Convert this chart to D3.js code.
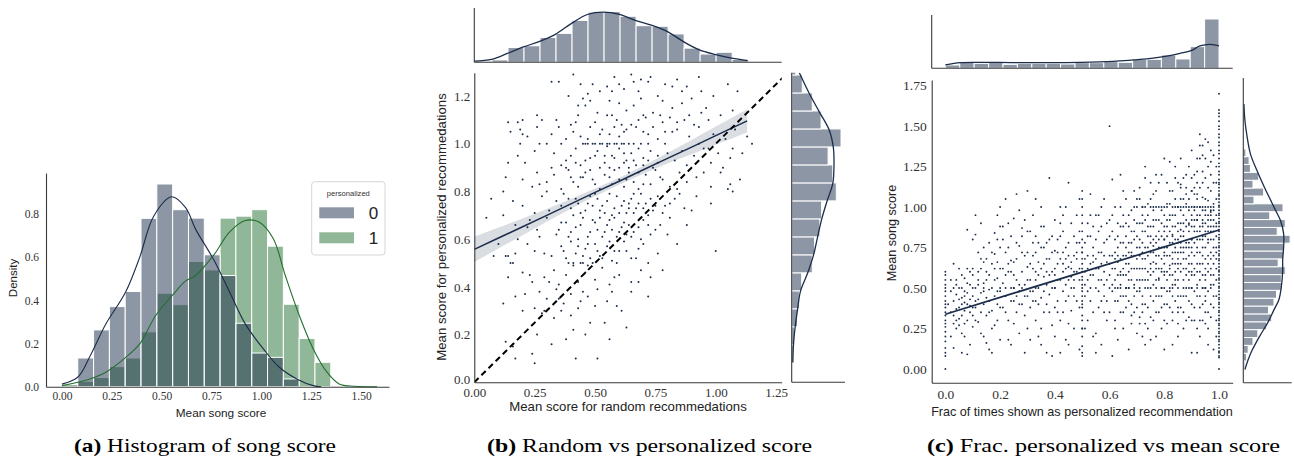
<!DOCTYPE html>
<html><head><meta charset="utf-8">
<script src="https://cdn.jsdelivr.net/npm/d3@7"></script>
<style>body{margin:0;background:#fff}svg{display:block}</style>
</head><body>
<svg id="chart" width="1294" height="460"></svg>
<script>
// ---------- DATA ----------
// (a) histogram of mean song score, density per bin (bin width 0.0793 starting at 0)
const aBinStart = 0, aBinWidth = 0.0793;
const aDens0 = [0,0.133,0.263,0.371,0.441,0.78,0.939,0.82,0.781,0.611,0.515,0.294,0.156,0.136,0.036,0,0,0,0,0];
const aDens1 = [0.01,0.025,0.043,0.093,0.133,0.254,0.433,0.38,0.58,0.541,0.781,0.79,0.82,0.651,0.382,0.223,0.113,0.005,0.005,0.005];
const aKde0 = [[0,0.012],[0.08,0.045],[0.14,0.14],[0.22,0.29],[0.32,0.44],[0.39,0.6],[0.46,0.79],[0.55,0.88],[0.62,0.83],[0.67,0.73],[0.76,0.59],[0.84,0.44],[0.92,0.29],[1.01,0.175],[1.09,0.09],[1.18,0.035],[1.26,0.005],[1.3,0]];
const aKde1 = [[0,0.005],[0.14,0.036],[0.22,0.067],[0.32,0.136],[0.39,0.198],[0.47,0.33],[0.56,0.43],[0.62,0.49],[0.67,0.515],[0.76,0.608],[0.84,0.716],[0.92,0.77],[0.99,0.762],[1.06,0.685],[1.12,0.515],[1.19,0.33],[1.26,0.175],[1.33,0.066],[1.39,0.013],[1.47,0.002],[1.58,0]];
const aXTicks = [0,0.25,0.5,0.75,1.0,1.25,1.5];
const aYTicks = [0,0.2,0.4,0.6,0.8];
const aLegend = ["0","1"];

// (b) random vs personalized
const bPoints = [
[0.41,1.29],[0.58,1.28],[0.65,1.29],[0.69,1.27],[0.73,1.28],[0.93,1.28],[0.35,1.26],[0.32,1.26],[0.49,1.25],[0.55,1.24],[0.66,1.26],[0.72,1.26],[0.79,1.25],[0.82,1.24],[0.94,1.22],[0.86,1.22],[1.09,1.22],[0.57,1.22],[0.47,1.21],[0.62,1.23],
[0.45,1.19],[0.46,1.16],[0.48,1.18],[0.56,1.18],[0.60,1.17],[0.66,1.16],[0.69,1.19],[0.78,1.18],[0.82,1.15],[0.86,1.17],[0.90,1.19],[0.96,1.15],[1.07,1.14],[0.26,1.12],[0.28,1.1],[0.43,1.16],[0.51,1.13],[0.57,1.12],[0.63,1.14],[0.71,1.11],[0.74,1.13],[0.77,1.12],[0.81,1.11],[0.89,1.12],[0.94,1.13],[0.2,1.1],[0.18,1.09],[0.14,1.09],[0.42,1.09],[0.5,1.09],[0.61,1.08],[0.68,1.1],[0.84,1.09],
[0.15,1.05],[0.19,1.06],[0.20,1.04],[0.22,1.03],[0.26,1.07],[0.32,1.04],[0.35,1.07],[0.41,1.05],[0.44,1.03],[0.47,1.02],[0.53,1.06],[0.56,1.04],[0.60,1.03],[0.63,1.06],[0.67,1.07],[0.72,1.04],[0.76,1.02],[0.79,1.05],[0.84,1.06],[0.89,1.03],[0.93,1.07],[0.99,1.04],[1.04,1.02],[1.08,1.06],[1.13,1.03],[0.38,1.02],[0.58,1.07],[0.70,1.05],
[0.19,1.0],[0.27,1.0],[0.30,1.0],[0.45,1.0],[0.46,1.0],[0.47,1.0],[0.49,1.0],[0.50,1.0],[0.52,1.0],[0.53,1.0],[0.55,1.0],[0.56,1.0],[0.58,1.0],[0.59,1.0],[0.61,1.0],[0.62,1.0],[0.64,1.0],[0.66,1.0],[0.69,1.0],[0.72,1.0],[0.79,1.0],[1.15,1.0],
[0.18,0.95],[0.21,0.92],[0.25,0.97],[0.33,0.96],[0.38,0.93],[0.40,0.95],[0.42,0.98],[0.44,0.91],[0.48,0.94],[0.51,0.97],[0.54,0.92],[0.57,0.95],[0.60,0.98],[0.63,0.93],[0.65,0.96],[0.67,0.91],[0.70,0.94],[0.73,0.97],[0.76,0.92],[0.80,0.96],[0.83,0.93],[0.88,0.91],[0.91,0.95],[0.95,0.98],[0.98,0.92],[1.01,0.96],[1.06,0.94],[1.11,0.96],[0.14,0.92],[0.36,0.91],[0.55,0.99],[0.62,0.96],[0.68,0.98],[0.86,0.97],
[0.13,0.86],[0.24,0.82],[0.26,0.88],[0.30,0.84],[0.33,0.87],[0.36,0.81],[0.39,0.89],[0.41,0.84],[0.43,0.82],[0.46,0.88],[0.49,0.85],[0.52,0.81],[0.54,0.87],[0.57,0.83],[0.58,0.89],[0.60,0.85],[0.62,0.82],[0.64,0.88],[0.66,0.84],[0.68,0.81],[0.71,0.87],[0.73,0.83],[0.75,0.89],[0.78,0.85],[0.81,0.82],[0.85,0.88],[0.88,0.84],[0.92,0.86],[0.98,0.82],[1.02,0.88],[1.05,0.81],[1.06,0.83],[0.27,0.83],[0.45,0.86],[0.50,0.83],[0.56,0.86],[0.63,0.85],[0.70,0.83],[0.77,0.86],[0.84,0.81],[1.07,0.8],
[0.07,0.77],[0.12,0.8],[0.20,0.74],[0.28,0.78],[0.31,0.72],[0.34,0.76],[0.37,0.79],[0.40,0.73],[0.42,0.77],[0.44,0.71],[0.47,0.75],[0.50,0.79],[0.52,0.72],[0.55,0.76],[0.57,0.7],[0.59,0.78],[0.61,0.74],[0.63,0.71],[0.65,0.77],[0.67,0.73],[0.69,0.79],[0.71,0.75],[0.74,0.72],[0.76,0.78],[0.79,0.74],[0.83,0.77],[0.87,0.73],[0.90,0.72],[0.25,0.71],[0.48,0.78],[0.53,0.74],[0.60,0.71],[0.66,0.79],[0.72,0.7],[0.64,0.75],[0.16,0.76],
[0.05,0.69],[0.17,0.66],[0.23,0.68],[0.26,0.64],[0.30,0.69],[0.34,0.62],[0.36,0.67],[0.39,0.61],[0.42,0.65],[0.45,0.69],[0.48,0.63],[0.50,0.67],[0.53,0.61],[0.55,0.66],[0.58,0.69],[0.60,0.63],[0.62,0.67],[0.65,0.61],[0.68,0.65],[0.70,0.68],[0.73,0.62],[0.77,0.66],[0.81,0.69],[0.27,0.61],[0.43,0.6],[0.52,0.69],[0.57,0.64],[0.63,0.62],[0.75,0.64],
[0.08,0.53],[0.14,0.53],[0.15,0.5],[0.17,0.54],[0.22,0.58],[0.25,0.55],[0.32,0.53],[0.36,0.57],[0.38,0.52],[0.40,0.59],[0.42,0.54],[0.44,0.5],[0.46,0.56],[0.48,0.52],[0.50,0.58],[0.52,0.53],[0.55,0.57],[0.57,0.51],[0.60,0.55],[0.62,0.59],[0.65,0.52],[0.68,0.56],[0.72,0.5],[0.76,0.54],[1.0,0.55],[0.13,0.53],[0.29,0.54],[0.41,0.5],[0.49,0.5],[0.58,0.55],[0.45,0.5],
[0.14,0.44],[0.16,0.5],[0.20,0.46],[0.24,0.42],[0.29,0.44],[0.33,0.47],[0.35,0.41],[0.38,0.45],[0.41,0.49],[0.43,0.42],[0.46,0.46],[0.50,0.43],[0.53,0.48],[0.56,0.41],[0.60,0.45],[0.65,0.42],[0.69,0.47],[0.73,0.44],[0.78,0.47],[0.47,0.49],[0.58,0.44],
[0.12,0.33],[0.17,0.36],[0.21,0.37],[0.25,0.31],[0.30,0.35],[0.34,0.39],[0.37,0.33],[0.40,0.37],[0.43,0.31],[0.47,0.36],[0.51,0.39],[0.55,0.34],[0.59,0.32],[0.65,0.38],[0.44,0.34],
[0.20,0.3],[0.28,0.29],[0.33,0.27],[0.40,0.28],[0.41,0.22],[0.48,0.25],[0.54,0.25],[0.63,0.23],[0.36,0.3],[0.29,0.3],
[0.13,0.17],[0.16,0.15],[0.32,0.16],[0.24,0.12],[0.17,0.1],[0.25,0.08],[0.42,0.1],[0.51,0.1]
];
const bPoints2 = [
[0.38,0.9],[0.4,0.86],[0.42,0.92],[0.44,0.86],[0.46,0.93],[0.48,0.89],[0.5,0.95],[0.52,0.9],[0.54,0.95],[0.56,0.9],[0.58,0.94],[0.6,0.9],[0.62,0.92],[0.64,0.9],[0.66,0.93],[0.68,0.88],[0.7,0.91],[0.72,0.93],[0.74,0.9],[0.76,0.95],
[0.36,0.74],[0.39,0.77],[0.41,0.7],[0.43,0.75],[0.46,0.72],[0.49,0.74],[0.51,0.77],[0.54,0.71],[0.56,0.79],[0.58,0.73],[0.62,0.76],[0.64,0.73],[0.66,0.71],[0.68,0.75],[0.7,0.73],[0.73,0.77],[0.75,0.74],[0.78,0.71],[0.81,0.75],[0.85,0.79],
[0.35,0.64],[0.38,0.67],[0.4,0.63],[0.44,0.66],[0.47,0.61],[0.49,0.68],[0.51,0.64],[0.54,0.63],[0.56,0.68],[0.59,0.61],[0.61,0.65],[0.64,0.66],[0.66,0.63],[0.69,0.6],[0.72,0.66],
[0.37,0.55],[0.39,0.5],[0.43,0.57],[0.45,0.53],[0.47,0.58],[0.51,0.55],[0.53,0.52],[0.56,0.59],[0.59,0.5],[0.63,0.55],[0.67,0.52],[0.7,0.58],
[0.3,0.8],[0.32,0.9],[0.34,1.1],[0.36,1.0],[0.4,1.08],[0.43,1.12],[0.48,1.07],[0.52,1.04],[0.55,1.12],[0.59,1.1],[0.62,1.05],[0.65,1.08],[0.7,1.12],[0.74,1.07],[0.78,1.09],[0.82,1.05],[0.87,1.1],[0.91,1.08],[0.97,1.1],[1.02,1.12],
[0.39,1.2],[0.44,1.25],[0.52,1.22],[0.6,1.25],[0.68,1.22],[0.76,1.2],[0.84,1.27],[0.88,1.24],[0.99,1.2],[1.05,1.25],
[0.2,0.85],[0.22,0.65],[0.18,0.6],[0.12,0.7],[0.1,0.58],[0.23,0.45],[0.27,0.38],[0.31,0.42],[0.35,0.35],[0.45,0.38],[0.5,0.32],[0.57,0.38],[0.61,0.3],[0.68,0.42],[0.72,0.36],[0.8,0.62],[0.84,0.58],[0.88,0.66],[0.92,0.78],[0.95,0.88],[0.98,0.75],[1.03,0.9],[1.1,0.85],[1.07,0.98],[0.93,1.0],[0.97,0.98],[0.26,0.2],[0.38,0.18],[0.46,0.2],[0.56,0.18]
];
const bRegX  = [0,0.1,0.2,0.3,0.4,0.5,0.6,0.7,0.8,0.9,1.0,1.13];
const bRegY  = [0.557,0.605,0.652,0.700,0.748,0.796,0.843,0.891,0.939,0.986,1.034,1.096];
const bRegCI = [0.053,0.044,0.035,0.027,0.02,0.016,0.015,0.017,0.022,0.03,0.038,0.049];
const bTopStart = 0.007, bTopWidth = 0.0663;
const bTopCounts = [2,4,25,28,42,49,71,85,86,78,62,61,48,24,14,17,5];
const bTopKdeX = [0,0.072,0.137,0.203,0.268,0.334,0.403,0.468,0.534,0.601,0.667,0.733,0.8,0.866,0.932,1.0,1.066,1.132];
const bTopKdeV = [2,5,15,26,35,47,66,81,85,81,71,63,52,35,21,13,7,3];
const bRightStart = 0.082, bRightWidth = 0.0754;
const bRightCounts = [3,5,10,13,17,35,39,48,51,76,70,62,84,50,35,18,7];
const bRightKdeY = [1.298,1.211,1.134,1.057,0.983,0.908,0.834,0.758,0.683,0.608,0.532,0.457,0.382,0.306,0.234,0.157,0.083];
const bRightKdeV = [13,30,47,64,71,72,70,60,51,44,37,27,15,10,6,3,2];
const bXTicks = [0,0.25,0.5,0.75,1.0,1.25];
const bYTicks = [0,0.2,0.4,0.6,0.8,1.0,1.2];

// (c) fraction personalized vs mean score
const cColX1 = [0.0,0.07,0.08,0.1,0.11,0.13,0.15,0.17,0.18,0.2,0.22,0.23,0.25,0.27,0.28,0.3,0.31,0.33,0.35,0.36,0.38,0.4,0.41,0.43,0.44,0.46,0.48,0.5,0.51,0.53,0.55,0.56,0.58,0.6,0.61,0.63,0.65,0.67,0.68,0.7,0.71,0.73,0.75,0.76,0.78,0.8,0.81,0.83,0.85,0.86,0.88,0.9,0.91,0.93,0.95,0.96,0.98,1.0,1.01,1.03,1.05,1.07,1.08,1.1,1.12,1.14,1.15,1.17,1.2,1.22,1.25,1.27,1.3,1.33,1.35,1.38,1.4,1.43,1.45,1.48,1.5,1.53,1.56,1.58,1.6,1.7];
const cColX0 = [0.0,0.08,0.1,0.13,0.17,0.2,0.23,0.26,0.28,0.3,0.33,0.35,0.38,0.4,0.42,0.45,0.48,0.5,0.52,0.55,0.58,0.6];
const cColXHalf = [0.08,0.1,0.14,0.2,0.25,0.3,0.33,0.38,0.42,0.45,0.48,0.5,0.52,0.55,0.57,0.6,0.62,0.65,0.68,0.72,0.75,0.8,0.85,0.9,0.95,1.0,1.05,1.1];
const cRowY1 = [0.69,0.7,0.72,0.73,0.75,0.76,0.77,0.79,0.8,0.81,0.83,0.84,0.85,0.86,0.87,0.88,0.89,0.9,0.91,0.92,0.93,0.94,0.95,0.96,0.97,0.98];
const cRowYHalf = [0.14,0.2,0.25,0.33,0.4,0.6,0.62,0.64,0.66,0.67,0.69,0.71,0.73,0.75,0.77,0.79,0.8,0.82,0.83,0.85,0.87,0.88,0.9,0.92,0.94,0.95,0.97];
const cCloud = [
[0.02,0.35],[0.03,0.42],[0.03,0.28],[0.04,0.46],[0.04,0.55],[0.05,0.38],[0.05,0.31],[0.05,0.62],[0.06,0.44],[0.06,0.5],[0.06,0.22],[0.07,0.36],[0.07,0.41],[0.07,0.56],[0.08,0.47],[0.08,0.3],[0.08,0.86],[0.09,0.52],[0.09,0.39],[0.09,0.15],[0.1,0.45],[0.1,0.58],[0.1,0.33],[0.02,0.2],[0.03,0.13],[0.04,0.25],[0.06,0.1],[0.08,0.09],[0.1,0.62],[0.05,0.5],[0.07,0.48],[0.09,0.43],[0.02,0.55],[0.04,0.37],[0.06,0.33],[0.08,0.4],[0.1,0.26],[0.1,0.8],[0.03,0.65],[0.07,0.2],
[0.11,0.5],[0.11,0.38],[0.12,0.55],[0.12,0.72],[0.12,0.29],[0.13,0.47],[0.13,0.62],[0.13,0.9],[0.14,0.4],[0.14,0.53],[0.14,0.2],[0.15,0.68],[0.15,0.44],[0.15,0.33],[0.16,0.58],[0.16,0.78],[0.16,0.12],[0.17,0.5],[0.17,0.36],[0.17,0.65],[0.18,0.45],[0.18,0.27],[0.18,0.84],[0.19,0.56],[0.19,0.4],[0.19,0.95],[0.2,0.62],[0.2,0.48],[0.2,0.18],[0.11,0.83],[0.13,0.22],[0.15,0.16],[0.17,0.1],[0.19,0.3],[0.12,0.43],[0.14,0.66],[0.16,0.49],[0.18,0.71],[0.2,0.75],[0.2,1.0],
[0.21,0.53],[0.21,0.38],[0.22,0.72],[0.22,0.45],[0.22,1.05],[0.23,0.6],[0.23,0.3],[0.24,0.5],[0.24,0.82],[0.24,0.15],[0.25,0.42],[0.25,0.66],[0.25,0.93],[0.26,0.55],[0.26,0.35],[0.26,1.08],[0.27,0.48],[0.27,0.76],[0.27,0.22],[0.28,0.6],[0.28,0.4],[0.28,0.87],[0.29,0.52],[0.29,0.1],[0.29,0.7],[0.3,0.45],[0.3,0.63],[0.3,1.1],[0.21,0.88],[0.23,0.18],[0.25,0.28],[0.27,0.98],[0.29,0.33],[0.22,0.58],[0.24,0.67],[0.26,0.78],[0.28,0.5],[0.3,0.85],[0.23,0.9],[0.3,0.25],
[0.31,0.55],[0.31,0.38],[0.32,0.7],[0.32,0.48],[0.32,0.95],[0.33,0.6],[0.33,0.3],[0.33,0.82],[0.34,0.5],[0.34,0.2],[0.34,0.66],[0.35,0.44],[0.35,0.75],[0.35,1.0],[0.36,0.57],[0.36,0.35],[0.36,0.88],[0.37,0.52],[0.37,0.1],[0.37,0.68],[0.38,0.46],[0.38,0.8],[0.38,1.18],[0.39,0.6],[0.39,0.27],[0.39,0.72],[0.4,0.5],[0.4,0.92],[0.31,0.18],[0.33,0.42],[0.35,0.15],[0.37,0.4],[0.39,0.08],[0.32,0.62],[0.34,0.78],[0.36,0.65],[0.38,0.58],[0.4,0.38],[0.4,0.73],[0.31,0.85],
[0.41,0.55],[0.41,0.42],[0.42,0.68],[0.42,0.3],[0.42,1.0],[0.43,0.6],[0.43,0.48],[0.43,0.85],[0.44,0.52],[0.44,0.18],[0.44,0.75],[0.45,0.45],[0.45,0.63],[0.45,1.15],[0.46,0.57],[0.46,0.36],[0.46,0.9],[0.47,0.5],[0.47,0.25],[0.47,0.7],[0.48,0.6],[0.48,0.42],[0.48,0.95],[0.49,0.55],[0.49,0.12],[0.49,0.78],[0.41,0.8],[0.42,0.1],[0.43,0.35],[0.44,0.62],[0.45,0.28],[0.46,0.66],[0.47,0.82],[0.48,0.72],[0.49,0.38],[0.41,0.65],[0.43,0.72],[0.45,0.55],[0.47,0.6],[0.49,1.05],
[0.51,0.6],[0.51,0.45],[0.51,0.78],[0.52,0.55],[0.52,0.3],[0.52,0.9],[0.53,0.65],[0.53,0.42],[0.53,1.08],[0.54,0.58],[0.54,0.2],[0.54,0.75],[0.55,0.5],[0.55,0.68],[0.55,0.95],[0.56,0.62],[0.56,0.38],[0.56,0.85],[0.57,0.55],[0.57,0.15],[0.57,0.72],[0.58,0.6],[0.58,0.45],[0.58,1.05],[0.59,0.66],[0.59,0.3],[0.59,0.8],[0.6,0.58],[0.6,0.7],[0.6,1.5],[0.51,0.25],[0.52,0.7],[0.53,0.82],[0.54,0.35],[0.55,0.1],[0.56,0.48],[0.57,0.88],[0.58,0.52],[0.59,0.42],[0.6,0.92],[0.52,0.62],[0.54,0.66],[0.56,0.72],[0.58,0.78],[0.6,0.35],
[0.61,0.62],[0.61,0.48],[0.61,0.85],[0.61,1.17],[0.62,0.55],[0.62,0.3],[0.62,0.72],[0.62,1.0],[0.63,0.66],[0.63,0.42],[0.63,0.9],[0.63,0.18],[0.64,0.6],[0.64,0.78],[0.64,0.52],[0.64,1.2],[0.65,0.7],[0.65,0.45],[0.65,0.95],[0.65,0.25],[0.66,0.58],[0.66,0.82],[0.66,0.38],[0.66,1.05],[0.67,0.65],[0.67,0.5],[0.67,0.88],[0.67,0.12],[0.68,0.72],[0.68,0.55],[0.68,0.98],[0.68,0.33],[0.69,0.62],[0.69,0.8],[0.69,0.45],[0.69,1.1],[0.7,0.68],[0.7,0.55],[0.7,0.9],[0.7,0.22],[0.62,0.62],[0.63,0.75],[0.64,0.35],[0.65,0.58],[0.66,0.7],[0.67,0.78],[0.68,0.4],[0.69,0.92],[0.7,0.75],[0.61,0.08],[0.64,0.68],[0.66,0.9],[0.68,0.85],[0.7,0.48],[0.67,0.6],
[0.71,0.7],[0.71,0.55],[0.71,0.9],[0.71,0.32],[0.72,0.62],[0.72,0.78],[0.72,1.0],[0.72,0.45],[0.73,0.68],[0.73,0.85],[0.73,0.28],[0.73,1.25],[0.74,0.6],[0.74,0.75],[0.74,0.5],[0.74,0.95],[0.75,0.72],[0.75,0.58],[0.75,0.88],[0.75,0.18],[0.76,0.66],[0.76,0.8],[0.76,0.42],[0.76,1.08],[0.77,0.7],[0.77,0.55],[0.77,0.92],[0.77,0.35],[0.78,0.75],[0.78,0.62],[0.78,0.85],[0.78,1.15],[0.79,0.68],[0.79,0.5],[0.79,0.98],[0.79,0.25],[0.8,0.72],[0.8,0.58],[0.8,0.88],[0.8,1.3],[0.71,0.62],[0.72,0.4],[0.73,0.75],[0.74,0.38],[0.75,0.82],[0.76,0.6],[0.77,0.78],[0.78,0.45],[0.79,0.82],[0.8,0.65],[0.71,0.8],[0.72,0.9],[0.73,0.55],[0.74,0.88],[0.75,0.65],[0.76,0.92],[0.77,0.62],[0.78,0.92],[0.79,0.6],[0.8,0.8],[0.72,0.2],[0.75,1.05],[0.77,1.2],[0.79,0.38],[0.8,0.12],
[0.81,0.75],[0.81,0.6],[0.81,0.92],[0.81,0.4],[0.82,0.7],[0.82,0.85],[0.82,1.1],[0.82,0.48],[0.83,0.78],[0.83,0.65],[0.83,0.95],[0.83,0.3],[0.84,0.72],[0.84,0.88],[0.84,0.55],[0.84,1.18],[0.85,0.8],[0.85,0.62],[0.85,1.0],[0.85,0.2],[0.86,0.75],[0.86,0.9],[0.86,0.45],[0.86,1.3],[0.87,0.82],[0.87,0.68],[0.87,1.05],[0.87,0.35],[0.88,0.78],[0.88,0.92],[0.88,0.58],[0.88,1.2],[0.89,0.85],[0.89,0.7],[0.89,0.98],[0.89,0.42],[0.9,0.8],[0.9,0.65],[0.9,0.95],[0.9,1.35],[0.81,0.82],[0.82,0.58],[0.83,0.88],[0.84,0.65],[0.85,0.72],[0.86,0.6],[0.87,0.9],[0.88,0.68],[0.89,0.75],[0.9,0.88],[0.81,1.02],[0.82,0.95],[0.83,0.52],[0.84,0.8],[0.85,0.9],[0.86,0.82],[0.87,0.55],[0.88,1.02],[0.89,0.6],[0.9,0.72],[0.81,0.28],[0.83,0.15],[0.85,0.38],[0.87,0.25],[0.89,0.32],[0.82,1.28],[0.84,1.05],[0.86,1.12],[0.88,0.45],[0.9,1.1],[0.83,0.72],[0.85,0.55],[0.87,0.75],[0.89,0.9],[0.9,0.5],
[0.91,0.85],[0.91,0.7],[0.91,0.98],[0.91,0.48],[0.91,1.2],[0.92,0.8],[0.92,0.92],[0.92,0.6],[0.92,1.3],[0.93,0.88],[0.93,0.72],[0.93,0.95],[0.93,0.38],[0.93,1.12],[0.94,0.82],[0.94,0.65],[0.94,0.98],[0.94,1.38],[0.95,0.9],[0.95,0.75],[0.95,0.58],[0.95,1.05],[0.95,0.28],[0.96,0.85],[0.96,0.7],[0.96,0.95],[0.96,1.25],[0.97,0.92],[0.97,0.8],[0.97,0.62],[0.97,1.1],[0.97,0.4],[0.98,0.88],[0.98,0.75],[0.98,0.98],[0.98,1.32],[0.99,0.95],[0.99,0.82],[0.99,0.68],[0.99,1.15],[0.91,0.62],[0.92,0.72],[0.93,0.55],[0.94,0.9],[0.95,0.82],[0.96,0.78],[0.97,0.72],[0.98,0.65],[0.99,0.9],[0.91,0.92],[0.92,1.05],[0.93,0.8],[0.94,0.75],[0.95,0.68],[0.96,0.6],[0.97,0.85],[0.98,0.8],[0.99,0.75],[0.91,0.3],[0.92,0.45],[0.93,0.2],[0.94,0.5],[0.95,0.42],[0.96,0.35],[0.97,0.52],[0.98,0.45],[0.99,0.3],[0.92,1.15],[0.94,1.22],[0.96,1.4],[0.95,1.18],[0.97,1.28],[0.93,1.45],[0.91,1.08],[0.99,0.55],[0.9,0.1],[0.96,0.15],[0.98,0.58],[0.94,0.7],[0.92,0.85],[0.96,0.88],[0.98,0.92],[0.93,0.65],[0.97,0.95],[0.99,0.62],
[0.72,0.72],[0.76,0.76],[0.8,0.8],[0.83,0.83],[0.86,0.86],[0.89,0.89],[0.92,0.92],[0.95,0.95],[0.97,0.97],[0.78,0.56],[0.82,0.64],[0.86,0.72],[0.9,0.8],[0.94,0.88],[0.9,1.1],[0.92,1.08],[0.94,1.06],[0.96,1.04],[0.86,1.14],[0.88,1.12],[0.8,0.7],[0.85,0.65],[0.9,0.6],[0.95,0.55],[0.8,0.3],[0.85,0.35],[0.9,0.4],[0.95,0.45]
];
const cCloud2 = [
[0.01,0.4],[0.02,0.48],[0.03,0.33],[0.04,0.52],[0.05,0.43],[0.06,0.58],[0.07,0.28],[0.08,0.53],[0.09,0.35],[0.1,0.5],[0.11,0.42],[0.12,0.6],[0.13,0.35],[0.14,0.48],[0.15,0.55],[0.16,0.42],[0.17,0.72],[0.18,0.55],[0.19,0.66],[0.2,0.38],[0.21,0.62],[0.22,0.5],[0.23,0.75],[0.24,0.42],[0.25,0.58],[0.26,0.68],[0.27,0.52],[0.28,0.72],[0.29,0.45],[0.3,0.55],[0.04,0.3],[0.06,0.4],[0.08,0.62],[0.1,0.38],[0.12,0.52],[0.14,0.75],[0.16,0.35],[0.18,0.62],[0.2,0.88],[0.22,0.35],[0.24,0.6],[0.26,0.45],[0.28,0.82],[0.3,0.72],[0.05,0.27],[0.09,0.6],[0.13,0.68],[0.17,0.25],[0.21,0.8],[0.25,0.5],[0.29,0.92],[0.03,0.5],[0.07,0.45],[0.11,0.3],[0.15,0.6],[0.19,0.48],[0.23,0.65],[0.27,0.4],[0.11,0.95],[0.19,0.8],
[0.31,0.65],[0.32,0.42],[0.33,0.72],[0.34,0.58],[0.35,0.62],[0.36,0.48],[0.37,0.78],[0.38,0.68],[0.39,0.5],[0.4,0.62],[0.41,0.72],[0.42,0.55],[0.43,0.65],[0.44,0.42],[0.45,0.78],[0.46,0.62],[0.47,0.55],[0.48,0.68],[0.49,0.62],[0.5,0.72],[0.51,0.52],[0.52,0.82],[0.53,0.58],[0.54,0.7],[0.55,0.62],[0.56,0.55],[0.57,0.65],[0.58,0.7],[0.59,0.55],[0.6,0.65],[0.31,0.48],[0.33,0.55],[0.35,0.88],[0.37,0.6],[0.39,0.82],[0.41,0.35],[0.43,0.95],[0.45,0.7],[0.47,0.45],[0.49,0.85],[0.51,0.68],[0.53,0.5],[0.55,0.8],[0.57,0.42],[0.59,0.9],[0.32,0.78],[0.34,0.4],[0.36,0.75],[0.38,0.35],[0.4,0.58],[0.42,0.82],[0.44,0.68],[0.46,0.5],[0.48,0.78],[0.5,0.4],[0.52,0.48],[0.54,0.88],[0.56,0.95],[0.58,0.35],[0.6,0.82],[0.35,0.25],[0.4,0.2],[0.45,0.15],[0.5,0.25],[0.55,0.22],[0.33,1.05],[0.44,1.0],[0.53,0.95],[0.57,1.0],[0.42,0.9],
[0.61,0.7],[0.61,0.52],[0.62,0.8],[0.62,0.42],[0.63,0.58],[0.63,0.7],[0.64,0.45],[0.64,0.88],[0.65,0.62],[0.65,0.78],[0.66,0.5],[0.66,0.65],[0.67,0.72],[0.67,0.42],[0.68,0.62],[0.68,0.78],[0.69,0.52],[0.69,0.7],[0.7,0.62],[0.7,0.82],[0.61,0.95],[0.62,0.25],[0.63,0.5],[0.64,1.0],[0.65,0.35],[0.66,0.75],[0.67,0.95],[0.68,0.28],[0.69,0.85],[0.7,0.38],[0.62,0.68],[0.63,0.82],[0.64,0.58],[0.65,0.88],[0.66,0.45],[0.67,0.55],[0.68,0.7],[0.69,0.35],[0.7,1.05],[0.65,1.1],
[0.71,0.75],[0.71,0.48],[0.71,1.05],[0.72,0.68],[0.72,0.55],[0.72,0.85],[0.73,0.62],[0.73,0.92],[0.73,0.4],[0.74,0.7],[0.74,0.82],[0.74,0.55],[0.75,0.62],[0.75,0.78],[0.75,0.45],[0.76,0.72],[0.76,0.52],[0.76,0.88],[0.77,0.65],[0.77,0.82],[0.77,0.45],[0.78,0.7],[0.78,0.55],[0.78,1.0],[0.79,0.75],[0.79,0.62],[0.79,0.9],[0.8,0.6],[0.8,0.75],[0.8,0.95],[0.71,0.28],[0.72,0.35],[0.73,0.15],[0.74,0.25],[0.75,0.32],[0.76,0.3],[0.77,0.2],[0.78,0.35],[0.79,0.45],[0.8,0.4],[0.71,1.12],[0.73,1.18],[0.75,1.15],[0.77,1.1],[0.79,1.2],[0.72,0.95],[0.74,1.02],[0.76,0.98],[0.78,0.8],[0.8,0.85],
[0.81,0.7],[0.81,0.55],[0.81,0.88],[0.82,0.78],[0.82,0.62],[0.82,0.92],[0.83,0.68],[0.83,0.82],[0.83,0.45],[0.84,0.75],[0.84,0.6],[0.84,0.95],[0.85,0.68],[0.85,0.85],[0.85,0.45],[0.86,0.78],[0.86,0.65],[0.86,0.98],[0.87,0.72],[0.87,0.62],[0.87,0.85],[0.88,0.75],[0.88,0.62],[0.88,0.88],[0.89,0.78],[0.89,0.65],[0.89,1.05],[0.9,0.75],[0.9,0.58],[0.9,0.92],[0.81,0.48],[0.82,0.38],[0.83,0.35],[0.84,0.42],[0.85,0.28],[0.86,0.38],[0.87,0.45],[0.88,0.3],[0.89,0.5],[0.9,0.3],[0.81,1.15],[0.82,1.02],[0.83,1.1],[0.84,1.25],[0.85,1.15],[0.86,1.05],[0.87,1.18],[0.88,1.08],[0.89,1.25],[0.9,1.18],[0.83,0.58],[0.85,0.78],[0.87,0.95],[0.89,0.55],[0.84,0.52],
[0.91,0.78],[0.91,0.58],[0.91,0.88],[0.91,1.0],[0.92,0.75],[0.92,0.65],[0.92,0.95],[0.92,0.52],[0.93,0.85],[0.93,0.6],[0.93,1.0],[0.93,0.45],[0.94,0.8],[0.94,0.58],[0.94,0.92],[0.94,0.4],[0.95,0.85],[0.95,0.62],[0.95,0.98],[0.95,0.5],[0.96,0.8],[0.96,0.65],[0.96,0.92],[0.96,0.48],[0.97,0.88],[0.97,0.68],[0.97,0.98],[0.97,0.58],[0.98,0.85],[0.98,0.7],[0.98,1.02],[0.98,0.52],[0.99,0.88],[0.99,0.72],[0.99,1.05],[0.99,0.45],[0.91,1.12],[0.92,1.22],[0.93,1.3],[0.94,1.15],[0.95,1.3],[0.96,1.12],[0.97,1.2],[0.98,1.15],[0.99,1.25],[0.91,0.38],[0.92,0.25],[0.93,0.3],[0.94,0.3],[0.95,0.35],[0.96,0.25],[0.97,0.32],[0.98,0.38],[0.99,0.2],[0.93,1.38],[0.95,1.42],[0.94,1.32],[0.97,1.35],[0.92,0.1],[0.98,0.12]
];
const cRegX = [0,0.25,0.5,0.75,1.0];
const cRegY = [0.338,0.468,0.598,0.728,0.858];
const cTopStart = 0, cTopWidth = 1/19;
const cTopCounts = [20,36,30,36,24,30,30,30,26,34,34,40,36,54,54,80,56,130,296];
const cTopKdeX = [0,0.055,0.128,0.249,0.371,0.493,0.614,0.687,0.736,0.797,0.858,0.898,0.93,0.967,1.0];
const cTopKdeV = [20,34,36,34,34,36,42,50,56,70,90,106,134,144,134];
const cRightStart = 0, cRightWidth = 1.7/35;
const cRightCounts = [5,10,15,30,45,72,88,78,95,103,118,118,130,108,125,125,145,105,130,82,123,33,63,30,48,22,18,8,3,2,1,1,0,0,1];
const cRightKdeY = [1.637,1.535,1.432,1.329,1.227,1.124,1.062,0.98,0.918,0.836,0.754,0.672,0.61,0.508,0.426,0.365,0.283,0.2,0.118,0.057,-0.004];
const cRightKdeV = [2,5,12,22,42,65,80,100,115,125,125,122,122,118,110,95,75,50,28,15,5];
const cXTicks = [0,0.2,0.4,0.6,0.8,1.0];
const cYTicks = [0,0.25,0.5,0.75,1.0,1.25,1.5,1.75];

// ---------- DRAWING ----------
const NAVY = "#1b2d4a", GREEN = "#22702f", AXIS = "#3a3a3a";
const SERIF = "'Liberation Serif','Times New Roman',serif";
const SANS = "'Liberation Sans',Arial,sans-serif";
const svg = d3.select("#chart");

function axisBottom(g, x, y0, ticks, fmt, size, pad) {
  const a = g.append("g").attr("transform", `translate(0,${y0})`)
    .call(d3.axisBottom(x).tickValues(ticks).tickFormat(d3.format(fmt)).tickSize(0).tickSizeOuter(0).tickPadding(pad));
  a.select(".domain").attr("stroke", AXIS).attr("stroke-width", 1.1);
  a.selectAll("text").attr("font-family", SERIF).attr("font-size", size).attr("fill", "#333");
  return a;
}
function axisLeft(g, y, x0, ticks, fmt, size, pad) {
  const a = g.append("g").attr("transform", `translate(${x0},0)`)
    .call(d3.axisLeft(y).tickValues(ticks).tickFormat(d3.format(fmt)).tickSize(0).tickSizeOuter(0).tickPadding(pad));
  a.select(".domain").attr("stroke", AXIS).attr("stroke-width", 1.1);
  a.selectAll("text").attr("font-family", SERIF).attr("font-size", size).attr("fill", "#333");
  return a;
}
function label(txt, x, y, size, rot) {
  svg.append("text").attr("transform", `translate(${x},${y}) rotate(${rot||0})`)
    .attr("text-anchor", "middle").attr("dominant-baseline", "central")
    .attr("font-family", SANS).attr("font-size", size).attr("fill", "#222").text(txt);
}
function vline(x, y1, y2) { svg.append("line").attr("x1", x).attr("x2", x).attr("y1", y1).attr("y2", y2).attr("stroke", AXIS).attr("stroke-width", 1.1); }
function hline(y, x1, x2) { svg.append("line").attr("x1", x1).attr("x2", x2).attr("y1", y).attr("y2", y).attr("stroke", AXIS).attr("stroke-width", 1.1); }
function clip(id, x0, y0, x1, y1) {
  svg.append("clipPath").attr("id", id).append("rect").attr("x", x0).attr("y", y0).attr("width", x1 - x0).attr("height", y1 - y0);
}
function vbars(g, counts, start, w, x, y, color) {
  g.selectAll(null).data(counts.map((c, i) => ({c, i})).filter(d => d.c > 0)).join("rect")
    .attr("x", d => x(start + d.i * w)).attr("width", d => x(start + (d.i + 1) * w) - x(start + d.i * w))
    .attr("y", d => y(d.c)).attr("height", d => y(0) - y(d.c))
    .attr("fill", color).attr("fill-opacity", 0.5).attr("stroke", "#fff").attr("stroke-width", 1);
}
function hbars(g, counts, start, w, x, y, color) {
  g.selectAll(null).data(counts.map((c, i) => ({c, i})).filter(d => d.c > 0)).join("rect")
    .attr("y", d => y(start + (d.i + 1) * w)).attr("height", d => y(start + d.i * w) - y(start + (d.i + 1) * w))
    .attr("x", x(0)).attr("width", d => x(d.c) - x(0))
    .attr("fill", color).attr("fill-opacity", 0.5).attr("stroke", "#fff").attr("stroke-width", 1);
}
function curve(g, pts, color, w) {
  g.append("path").attr("d", d3.line().curve(d3.curveCatmullRom)(pts))
    .attr("fill", "none").attr("stroke", color).attr("stroke-width", w || 1.1);
}

// ===== Panel (a) =====
{
  const x = d3.scaleLinear([-0.08, 1.64], [46, 389]);
  const y = d3.scaleLinear([0, 0.99], [386.7, 173]);
  const g = svg.append("g");
  vbars(g, aDens1, aBinStart, aBinWidth, x, y, GREEN);
  vbars(g, aDens0, aBinStart, aBinWidth, x, y, NAVY);
  curve(g, aKde0.map(d => [x(d[0]), y(d[1])]), NAVY, 1.1);
  curve(g, aKde1.map(d => [x(d[0]), y(d[1])]), GREEN, 1.1);
  axisBottom(svg, x, 386.7, aXTicks, ".2f", 11.5, 5);
  axisLeft(svg, y, 46, aYTicks, ".1f", 11.5, 7);
  label("Density", 13, 278, 11.5, -90);
  label("Mean song score", 221, 413, 11.8, 0);
  // legend
  const L = svg.append("g");
  L.append("rect").attr("x", 311.7).attr("y", 181.7).attr("width", 73.3).attr("height", 73.3).attr("rx", 3)
    .attr("fill", "#fff").attr("fill-opacity", 0.85).attr("stroke", "#d6d6d6").attr("stroke-width", 1);
  L.append("text").attr("x", 348.3).attr("y", 196.3).attr("text-anchor", "middle")
    .attr("font-family", SANS).attr("font-size", 7.6).attr("fill", "#333").text("personalized");
  [NAVY, GREEN].forEach((c, i) => {
    L.append("rect").attr("x", 319.3).attr("y", 207.3 + i * 25).attr("width", 34.7).attr("height", 11)
      .attr("fill", c).attr("fill-opacity", 0.5);
    L.append("text").attr("x", 373.5).attr("y", 219.3 + i * 25).attr("text-anchor", "middle")
      .attr("font-family", SANS).attr("font-size", 17).attr("fill", "#222").text(aLegend[i]);
  });
}

// ===== Panel (b) =====
{
  const x = d3.scaleLinear([0, 1.273], [474.3, 781.7]);
  const y = d3.scaleLinear([0, 1.298], [382.3, 72.7]);
  clip("clipB", 474.3, 72.7, 781.7, 382.3);
  const g = svg.append("g").attr("clip-path", "url(#clipB)");
  g.selectAll(null).data(bPoints.concat(bPoints2)).join("circle")
    .attr("cx", d => x(d[0])).attr("cy", d => y(d[1])).attr("r", 1.0).attr("fill", NAVY);
  const band = bRegX.map((v, i) => ({v, lo: bRegY[i] - bRegCI[i], hi: bRegY[i] + bRegCI[i]}));
  g.append("path").attr("d", d3.area().curve(d3.curveCatmullRom).x(d => x(d.v)).y0(d => y(d.lo)).y1(d => y(d.hi))(band))
    .attr("fill", NAVY).attr("fill-opacity", 0.16);
  g.append("path").attr("d", d3.line()(bRegX.map((v, i) => [x(v), y(bRegY[i])])))
    .attr("fill", "none").attr("stroke", NAVY).attr("stroke-width", 1.5);
  g.append("line").attr("x1", x(0)).attr("y1", y(0)).attr("x2", x(1.3)).attr("y2", y(1.3))
    .attr("stroke", "#000").attr("stroke-width", 2).attr("stroke-dasharray", "6,4");
  axisBottom(svg, x, 382.3, bXTicks, ".2f", 13, 5);
  const ya = axisLeft(svg, y, 474.3, bYTicks, ".1f", 13, 4);
  ya.selectAll(".tick text").filter(d => d === 0).attr("dy", "0.1em");
  label("Mean score for personalized recommedations", 441.7, 227, 13.2, -90);
  label("Mean score for random recommedations", 628, 406.7, 13.2, 0);
  // top marginal
  const ty = d3.scaleLinear([0, 92], [62.3, 8]);
  const gt = svg.append("g");
  vbars(gt, bTopCounts, bTopStart, bTopWidth, x, ty, NAVY);
  curve(gt, bTopKdeX.map((v, i) => [x(v), ty(bTopKdeV[i])]), NAVY, 1.3);
  vline(474.3, 8, 62.3); hline(62.3, 474.3, 781.7);
  // right marginal
  const rx = d3.scaleLinear([0, 90.8], [791.7, 845]);
  clip("clipBR", 791.7, 72.7, 850, 382.3);
  const gr = svg.append("g").attr("clip-path", "url(#clipBR)");
  hbars(gr, bRightCounts, bRightStart, bRightWidth, rx, y, NAVY);
  curve(gr, bRightKdeY.map((v, i) => [rx(bRightKdeV[i]), y(v)]), NAVY, 1.3);
  vline(791.7, 72.7, 382.3); hline(382.3, 791.7, 845);
}

// ===== Panel (c) =====
{
  const x = d3.scaleLinear([-0.05, 1.05], [931.7, 1232.7]);
  const y = d3.scaleLinear([-0.085, 1.785], [382.7, 80]);
  const g = svg.append("g");
  const pts = cCloud.concat(cCloud2)
    .concat(cColX1.map(v => [1.0, v]))
    .concat(cColX0.map(v => [0.0, v]))
    .concat(cColXHalf.map(v => [0.5, v]))
    .concat(cRowY1.map(v => [v, 1.0]))
    .concat(cRowYHalf.map(v => [v, 0.5]));
  g.selectAll(null).data(pts).join("circle")
    .attr("cx", d => x(d[0])).attr("cy", d => y(d[1])).attr("r", 0.95).attr("fill", NAVY);
  g.append("path").attr("d", d3.line()(cRegX.map((v, i) => [x(v), y(cRegY[i])])))
    .attr("fill", "none").attr("stroke", NAVY).attr("stroke-width", 1.7);
  axisBottom(svg, x, 382.7, cXTicks, ".1f", 13.5, 7);
  axisLeft(svg, y, 931.7, cYTicks, ".2f", 13.5, 5);
  label("Mean song score", 891.7, 233, 12.6, -90);
  label("Frac of times shown as personalized recommendation", 1082, 411.7, 12.6, 0);
  // top marginal
  const ty = d3.scaleLinear([0, 320], [68.3, 15]);
  const gt = svg.append("g");
  vbars(gt, cTopCounts, cTopStart, cTopWidth, x, ty, NAVY);
  curve(gt, cTopKdeX.map((v, i) => [x(v), ty(cTopKdeV[i])]), NAVY, 1.3);
  vline(931.7, 15, 68.3); hline(68.3, 931.7, 1232.7);
  // right marginal
  const rx = d3.scaleLinear([0, 150], [1243.3, 1291.7]);
  clip("clipCR", 1243.3, 80, 1294, 382.7);
  const gr = svg.append("g").attr("clip-path", "url(#clipCR)");
  hbars(gr, cRightCounts, cRightStart, cRightWidth, rx, y, NAVY);
  curve(gr, cRightKdeY.map((v, i) => [rx(cRightKdeV[i]), y(v)]), NAVY, 1.3);
  vline(1243.3, 78, 382.7); hline(382.7, 1243.3, 1291.7);
}

// ===== Captions =====
const captions = [["(a)", " Histogram of song score", 205, 262], ["(b)", " Random vs personalized score", 649.5, 325], ["(c)", " Frac. personalized vs mean score", 1103.5, 353]];
captions.forEach(([b, t, cx, w]) => {
  const tx = svg.append("text").attr("x", cx).attr("y", 452).attr("text-anchor", "middle")
    .attr("font-family", SERIF).attr("font-size", 19).attr("fill", "#000")
    .attr("textLength", w).attr("lengthAdjust", "spacingAndGlyphs");
  tx.append("tspan").attr("font-weight", "bold").text(b);
  tx.append("tspan").text(t);
});
</script>
</body></html>
